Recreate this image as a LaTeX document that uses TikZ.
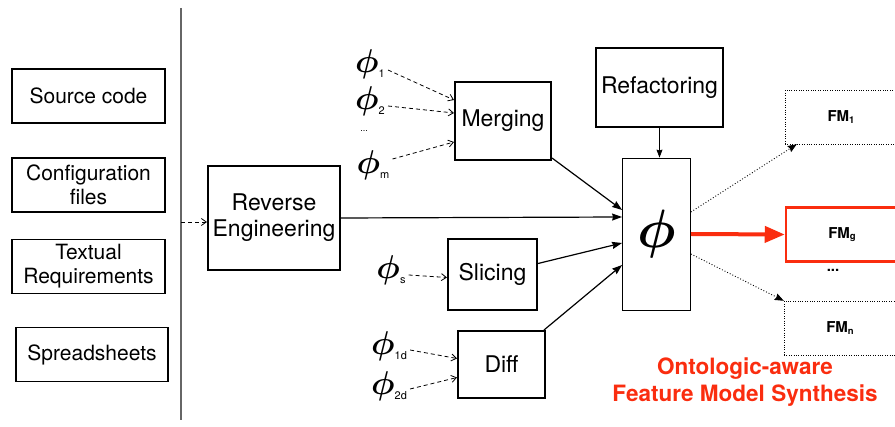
\RequirePackage{fix-cm}
\documentclass[tikz,border=0pt]{standalone}
\usepackage{fontspec}
\setmainfont{TeX Gyre Heros}
\usepackage{mathtools}
\usetikzlibrary{arrows.meta}

\definecolor{synred}{RGB}{250,45,15}
\newcommand{\phlab}[1]{{\boldmath$\phi$}\raisebox{-5pt}{\fontsize{11}{11}\selectfont #1}}
\newcommand{\fmlab}[1]{FM\raisebox{-1.5pt}{\fontsize{9.5}{9.5}\selectfont #1}}

\begin{document}
\begin{tikzpicture}[x=1pt, y=-1pt,
   srcbox/.style={draw, line width=1.2pt, inner sep=0pt, align=center, minimum width=153pt, minimum height=54pt, font=\fontsize{21}{24}\selectfont},
   opbox/.style={draw, line width=2pt, inner sep=0pt, align=center, font=\fontsize{23}{26}\selectfont},
   fmbox/.style={draw, inner sep=0pt, minimum width=112pt, minimum height=54pt, font=\bfseries\fontsize{15}{15}\selectfont},
   phin/.style={inner sep=0pt, font=\fontsize{33}{33}\selectfont},
   dasharr/.style={line width=0.8pt, dash pattern=on 4pt off 3pt, -{Straight Barb[length=5pt, width=7pt]}},
   solarr/.style={line width=1.2pt, -{Stealth[length=10pt, width=7pt, inset=1pt]}},
   dotarr/.style={line width=0.9pt, dotted, -{Stealth[length=9pt, width=7pt, inset=1pt]}}
]
   \useasboundingbox (0,0) rectangle (895,427);

   % inputs
   \node[srcbox] (src) at (88.5,96) {Source code};
   \node[srcbox] (cfg) at (88.5,185) {Configuration\\files};
   \node[srcbox] (req) at (88.5,266.5) {Textual\\Requirements};
   \node[srcbox, minimum width=152pt] (sheet) at (92,354.5) {Spreadsheets};

   \draw[line width=1.3pt, black!60] (181,8) -- (181,420);
   \coordinate (split) at (181,222);

   % operators
   \node[opbox, minimum width=132pt, minimum height=104pt] (rev) at (274,218) {Reverse\\Engineering};
   \node[opbox, minimum width=96pt, minimum height=78pt] (merge) at (503,121) {Merging};
   \node[opbox, minimum width=89pt, minimum height=71pt] (slice) at (492.5,274.5) {Slicing};
   \node[opbox, minimum width=87pt, minimum height=67pt] (diff) at (501.5,364.5) {Diff};
   \node[opbox, minimum width=127pt, minimum height=79pt] (refac) at (659.5,87.5) {Refactoring};
   \node[draw, line width=0.8pt, inner sep=0pt, minimum width=68pt, minimum height=152pt, font=\fontsize{54}{54}\selectfont\boldmath] (phibox) at (656.5,234) {$\phi$};

   % inputs of the operators
   \node[phin] (p1) at (370,64) {\phlab{1}};
   \node[phin] (p2) at (370,101) {\phlab{2}};
   \node[font=\fontsize{9}{9}\selectfont] (pdots) at (364,131) {...};
   \node[phin] (pm) at (373,165) {\phlab{m}};
   \node[phin] (ps) at (391,270) {\phlab{s}};
   \node[phin] (p1d) at (389,346) {\phlab{1d}};
   \node[phin] (p2d) at (389,386) {\phlab{2d}};

   % outputs
   \node[fmbox, dotted] (fm1) at (841,117) {\fmlab{1}};
   \node[fmbox, draw=synred, line width=2.5pt] (fmg) at (842,234.5) {\fmlab{g}};
   \node[font=\bfseries\fontsize{15}{15}\selectfont] (fmdots) at (833,270) {...};
   \node[fmbox, dotted] (fmn) at (840,328) {\fmlab{n}};
   \node[text=synred, align=center, font=\bfseries\fontsize{22.5}{27}\selectfont] (synth) at (745,382) {Ontologic-aware\\Feature Model Synthesis};

   \draw[dasharr] (split) -- (split -| rev.west);

   \draw[dasharr] ([xshift=3pt, yshift=-6pt]p1.east) -- ([yshift=21pt]merge.west);
   \draw[dasharr] ([xshift=3pt, yshift=-5pt]p2.east) -- ([yshift=8pt]merge.west);
   \draw[dasharr] ([xshift=3pt, yshift=6pt]pm.east) -- ([yshift=-21pt]merge.west);
   \draw[dasharr] ([xshift=3pt, yshift=-5pt]ps.east) -- ([yshift=-3pt]slice.west);
   \draw[dasharr] ([xshift=3pt, yshift=-4pt]p1d.east) -- ([yshift=6pt]diff.west);
   \draw[dasharr] ([xshift=3pt, yshift=-3pt]p2d.east) -- ([yshift=-13pt]diff.west);

   \draw[solarr] ([yshift=3pt]merge.south east) -- ([yshift=24pt]phibox.west);
   \draw[solarr] (rev.east) -- ([yshift=17pt]phibox.west);
   \draw[solarr] ([yshift=11pt]slice.east) -- ([yshift=-9pt]phibox.west);
   \draw[solarr] ([xshift=-2pt]diff.north east) -- ([yshift=-31pt]phibox.west);
   \draw[line width=0.8pt, -{Stealth[length=8pt, width=6pt, inset=1pt]}] (refac.south) -- (refac.south |- phibox.north);

   \draw[dotarr] ([yshift=22pt]phibox.east) -- ([xshift=12pt]fm1.south west);
   \draw[line width=4pt, synred, -{Triangle[length=20pt, width=16pt]}] (phibox.east) -- (fmg.west);
   \draw[dotarr] ([yshift=-20pt]phibox.east) -- (fmn.north west);

\end{tikzpicture}
\end{document}
